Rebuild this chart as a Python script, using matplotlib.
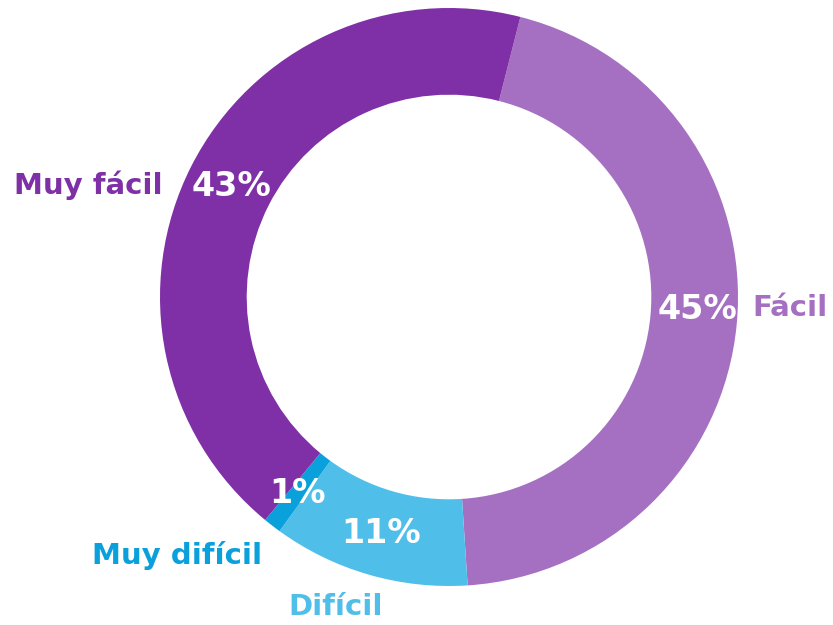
import numpy as np
import matplotlib
matplotlib.use('Agg')
import matplotlib.pyplot as plt

categories = ['Fácil', 'Difícil', 'Muy difícil', 'Muy fácil']
values = [45, 11, 1, 43]
pct_labels = ['45%', '11%', '1%', '43%']
colors = ['#A570C2', '#4FBFEA', '#0AA0DC', '#7F30A6']

# where the category names sit (axes data units, pie radius = 1)
label_pos = [(1.180, -0.038), (-0.394, -1.073), (-0.941, -0.896), (-1.249, 0.388)]
pct_radius = [0.86, 0.85, 0.86, 0.845]
pct_shift = [2.5, 0, 0, 0]  # small angular nudge, degrees

plt.rcParams['font.family'] = ['DejaVu Sans']

fig = plt.figure(figsize=(8.33, 6.25), dpi=100)
ax = fig.add_axes([0, 0, 1, 1])

start = 75.7
wedges, _ = ax.pie(values, colors=colors, startangle=start, counterclock=False,
                   radius=1.0, wedgeprops=dict(width=0.3, linewidth=0))

for w, pct, name, col, pos, rp, sh in zip(wedges, pct_labels, categories, colors,
                                          label_pos, pct_radius, pct_shift):
    mid = np.deg2rad((w.theta1 + w.theta2) / 2 + sh)
    ax.text(rp * np.cos(mid), rp * np.sin(mid), pct, color='white',
            fontsize=24, fontweight='bold', ha='center', va='center')
    ax.text(pos[0], pos[1], name, color=col,
            fontsize=21, fontweight='bold', ha='center', va='center')

ax.set_xlim(-449 / 289, (833 - 449) / 289)
ax.set_ylim(-(625 - 297) / 289, 297 / 289)
ax.set_aspect('auto')
ax.axis('off')

fig.savefig('out.png', dpi=100)
